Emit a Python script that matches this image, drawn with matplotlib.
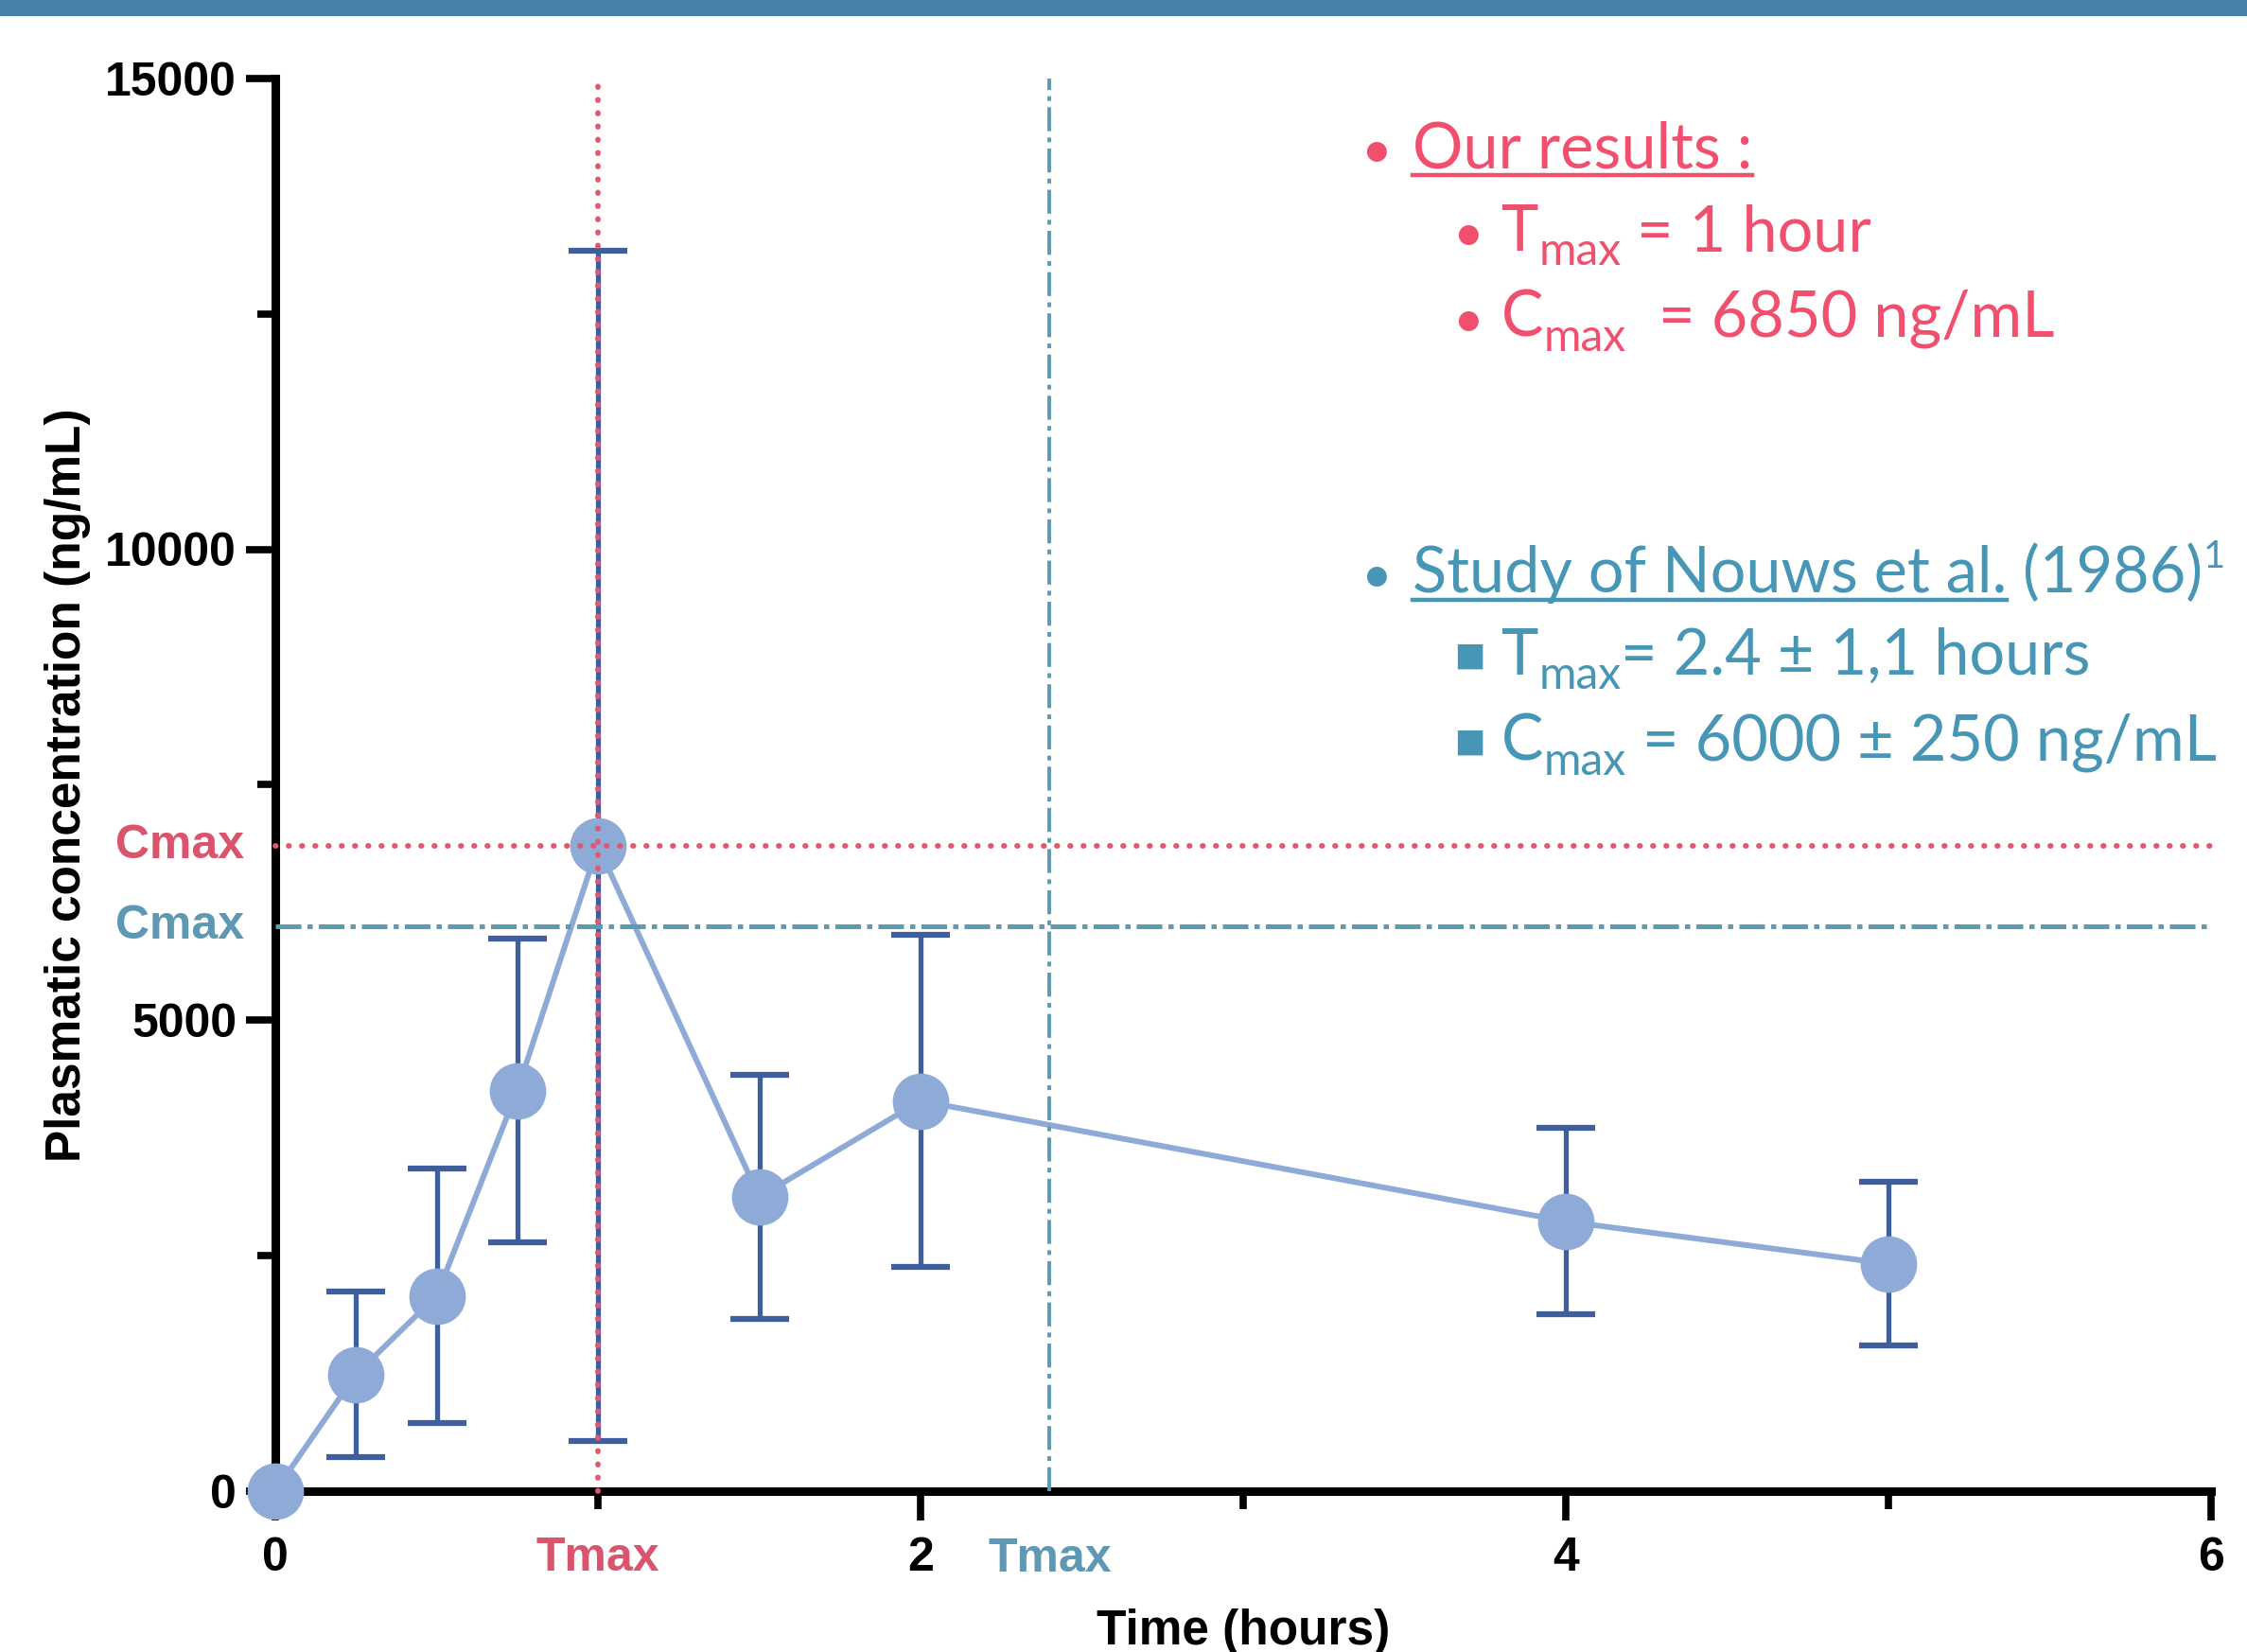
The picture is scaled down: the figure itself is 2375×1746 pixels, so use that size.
import matplotlib
matplotlib.use('Agg')
import matplotlib.pyplot as plt
import matplotlib.transforms as mtransforms
from matplotlib.lines import Line2D
from matplotlib.patches import Rectangle

W, H, DPI = 2375, 1746, 100

# data
time_h = [0, 0.25, 0.5, 0.75, 1, 1.5, 2, 4, 5]
conc = [0, 1235, 2070, 4250, 6850, 3120, 4140, 2860, 2410]
sd = [0, 880, 1355, 1615, 6320, 1300, 1760, 990, 870]

our_tmax, our_cmax = 1, 6850
lit_tmax, lit_cmax = 2.4, 6000

y_ticks = [0, 5000, 10000, 15000]
y_minor = [2500, 7500, 12500]
x_ticks = [0, 2, 4, 6]
x_minor = [1, 3, 5]
x_minor_labels = ['Tmax', '', '']

# colours
BAND = '#4a81ab'
MARKER = '#8eaad6'
ERR = '#3e5e9c'
RED_LINE = '#e2566f'
RED_LABEL = '#d9546c'
RED_TXT = '#f0506e'
BLUE_LINE = '#5b9bb4'
BLUE_LABEL = '#5f98b3'
BLUE_TXT = '#4796b6'

AXFONT = ['Liberation Sans', 'DejaVu Sans']
RIGHT_FONT = ['Lato', 'DejaVu Sans']
FS = 48
TICK_FS = 36
LABEL_FS = 37

plt.rcParams['font.family'] = AXFONT
plt.rcParams['font.weight'] = 'bold'
plt.rcParams['axes.labelweight'] = 'bold'

fig = plt.figure(figsize=(W / DPI, H / DPI), dpi=DPI)
fig.add_artist(Rectangle((0, 1 - 17 / H), 1, 17 / H, transform=fig.transFigure,
                         color=BAND, lw=0, zorder=0))

left, right, top, bottom = 291, 2337, 83, 1575.5
ax = fig.add_axes([left / W, 1 - bottom / H, (right - left) / W, (bottom - top) / H])

ax.errorbar(time_h, conc, yerr=sd, fmt='none', ecolor=ERR, elinewidth=3.8,
            capsize=22, capthick=4.5, zorder=2)
ax.plot(time_h, conc, '-o', color=MARKER, lw=4.3, ms=42, mec=MARKER,
        zorder=3, clip_on=False)

# reference lines
ax.plot([our_tmax, our_tmax], [0, 15000], color=RED_LINE, lw=4.2,
        linestyle=(0, (0.1, 2.3)), dash_capstyle='round', zorder=5, clip_on=False)
ax.plot([0, 6], [our_cmax, our_cmax], color=RED_LINE, lw=4.2,
        linestyle=(0, (0.1, 2.3)), dash_capstyle='round', zorder=5, clip_on=False)
ax.plot([lit_tmax, lit_tmax], [0, 15000], color=BLUE_LINE, lw=2.8,
        linestyle=(0, (6.5, 1.7, 1.3, 1.7)), zorder=5, clip_on=False)
ax.plot([0, 6], [lit_cmax, lit_cmax], color=BLUE_LINE, lw=3.6,
        linestyle=(0, (5.4, 1.3, 1.1, 1.3)), zorder=5, clip_on=False)

ax.set_xlim(0, 6)
ax.set_ylim(0, 15000)
for s in ['top', 'right']:
    ax.spines[s].set_visible(False)
for s in ['left', 'bottom']:
    ax.spines[s].set_linewidth(6.5)
    ax.spines[s].set_capstyle('projecting')

ax.set_xticks(x_ticks)
ax.set_xticks(x_minor, minor=True)
ax.set_xticklabels([str(v) for v in x_ticks])
ax.set_xticklabels(x_minor_labels, minor=True)
ax.set_yticks(y_ticks)
ax.set_yticks(y_minor, minor=True)
ax.set_yticklabels([str(v) for v in y_ticks])

ax.tick_params(which='major', length=22, width=5.5, labelsize=TICK_FS)
ax.tick_params(which='minor', length=14, width=5.5, labelsize=TICK_FS)
ax.tick_params(axis='x', which='major', pad=13)
ax.tick_params(axis='x', which='minor', pad=21)
ax.tick_params(axis='y', which='major', pad=7.5)
for lab in ax.get_xticklabels(minor=True):
    lab.set_color(RED_LABEL)

# Cmax / Tmax annotations on the axes
ytrans = mtransforms.offset_copy(
    mtransforms.blended_transform_factory(ax.transAxes, ax.transData),
    fig=fig, x=-24, y=0, units='points')
ax.text(0, our_cmax, 'Cmax', transform=ytrans, ha='right', va='center',
        fontsize=TICK_FS, color=RED_LABEL)
ax.text(0, lit_cmax, 'Cmax', transform=ytrans, ha='right', va='center',
        fontsize=TICK_FS, color=BLUE_LABEL)
xtrans = mtransforms.offset_copy(
    mtransforms.blended_transform_factory(ax.transData, ax.transAxes),
    fig=fig, x=0, y=-35.3, units='points')
ax.text(lit_tmax, 0, 'Tmax', transform=xtrans, ha='center', va='top',
        fontsize=TICK_FS, color=BLUE_LABEL)

ax.set_ylabel('Plasmatic concentration (ng/mL)', fontsize=LABEL_FS, fontweight='bold')
ax.yaxis.label.set_va('center')
ax.yaxis.set_label_coords(-0.1075, 0.5)
ax.set_xlabel('Time (hours)', fontsize=LABEL_FS, fontweight='bold')
ax.xaxis.set_label_coords(0.5, -0.0834)

# right hand text block
renderer = fig.canvas.get_renderer()


def text_run(x, y, pieces, color):
    """Writes pieces of text one after another on a baseline (pixels from top-left)."""
    for s, size, dy, under in pieces:
        t = fig.text(x / W, 1 - (y + dy) / H, s, fontsize=FS * size, color=color,
                     family=RIGHT_FONT, weight='normal', ha='left', va='baseline')
        bb = t.get_window_extent(renderer)
        if under:
            fig.add_artist(Line2D([x / W, (x + bb.width) / W],
                                  [1 - (y + 8) / H, 1 - (y + 8) / H],
                                  transform=fig.transFigure, color=color, lw=3.2))
        x += bb.width


def bullet(x, y, char, color, size=1.0, family=RIGHT_FONT):
    fig.text(x / W, 1 - y / H, char, fontsize=FS * size, color=color,
             family=family, weight='normal', ha='left', va='baseline')


bullet(1438, 177, '\u2022', RED_TXT, 0.85)
text_run(1493, 177, [('Our results :', 1, 0, True)], RED_TXT)
bullet(1535, 265, '\u2022', RED_TXT, 0.85)
text_run(1587, 265, [('T', 1, 0, False), ('max', 0.72, 15, False),
                     (' = 1 hour', 1, 0, False)], RED_TXT)
bullet(1535, 356, '\u2022', RED_TXT, 0.85)
text_run(1587, 356, [('C', 1, 0, False), ('max', 0.72, 15, False),
                     ('  = 6850 ng/mL', 1, 0, False)], RED_TXT)

bullet(1438, 626, '\u2022', BLUE_TXT, 0.85)
text_run(1493, 626, [('Study of Nouws et al.', 1, 0, True), (' (1986)', 1, 0, False),
                     ('1', 0.6, -26, False)], BLUE_TXT)
bullet(1535, 708, '\u25aa', BLUE_TXT, 0.8, ['DejaVu Sans'])
text_run(1587, 713, [('T', 1, 0, False), ('max', 0.72, 15, False),
                     ('= 2.4 \u00b1 1,1 hours', 1, 0, False)], BLUE_TXT)
bullet(1535, 799, '\u25aa', BLUE_TXT, 0.8, ['DejaVu Sans'])
text_run(1587, 804, [('C', 1, 0, False), ('max', 0.72, 15, False),
                     (' = 6000 \u00b1 250 ng/mL', 1, 0, False)], BLUE_TXT)

fig.savefig('out.png', dpi=DPI)
